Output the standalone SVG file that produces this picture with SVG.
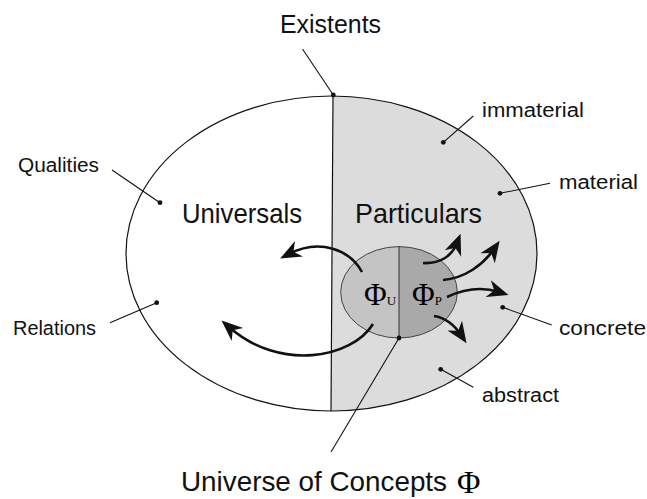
<svg xmlns="http://www.w3.org/2000/svg" width="647" height="499" viewBox="0 0 647 499">
<style>
.sans{font-family:"Liberation Sans","DejaVu Sans",sans-serif;fill:#111}
.serif{font-family:"Liberation Serif","DejaVu Serif",serif;fill:#000}
.lbl{font-size:20px}
.big{font-size:28px}
.outline{fill:none;stroke:#111;stroke-width:1.2}
.lead{stroke:#111;stroke-width:1.1;fill:none}
.dot{fill:#111}
.arr{stroke:#111;stroke-width:2.6;fill:none;marker-end:url(#ah)}
</style>
<defs>
<marker id="ah" markerUnits="userSpaceOnUse" markerWidth="30" markerHeight="30" viewBox="-12 -10 24 20" refX="0" refY="0" orient="auto" overflow="visible">
<path d="M8,0 L-9,-7 L-4,0 L-9,7 Z" fill="#111"/>
</marker>
<clipPath id="rightHalf"><polygon points="333.6,0 647,0 647,499 330.4,499"/></clipPath>
<clipPath id="innerLeft"><rect x="0" y="0" width="399" height="499"/></clipPath>
<clipPath id="innerRight"><rect x="399" y="0" width="248" height="499"/></clipPath>
</defs>

<g id="existents">
<ellipse cx="331.5" cy="253.5" rx="205.5" ry="157.5" fill="#ffffff"/>
<ellipse cx="331.5" cy="253.5" rx="205.5" ry="157.5" fill="#dcdcdc" clip-path="url(#rightHalf)"/>
<ellipse class="outline" cx="331.5" cy="253.5" rx="205.5" ry="157.5"/>
<line class="outline" x1="333" y1="96" x2="331" y2="411"/>
<text class="sans" x="280" y="33" font-size="25" textLength="101" lengthAdjust="spacingAndGlyphs">Existents</text>
</g>

<g id="universals">
<text class="sans big" x="182" y="223" textLength="120" lengthAdjust="spacingAndGlyphs">Universals</text>
</g>

<g id="particulars">
<text class="sans big" x="355" y="223" textLength="127" lengthAdjust="spacingAndGlyphs">Particulars</text>
</g>

<g id="concepts">
<ellipse cx="399" cy="292.3" rx="58.3" ry="45.7" fill="#c4c4c4" clip-path="url(#innerLeft)"/>
<ellipse cx="399" cy="292.3" rx="58.3" ry="45.7" fill="#a9a9a9" clip-path="url(#innerRight)"/>
<ellipse cx="399" cy="292.3" rx="58.3" ry="45.7" fill="none" stroke="#444" stroke-width="1"/>
<line x1="399" y1="246.6" x2="399" y2="338" stroke="#333" stroke-width="1"/>
<text class="serif" x="364" y="305" font-size="31">Φ<tspan font-size="13">U</tspan></text>
<text class="serif" x="412" y="305" font-size="31">Φ<tspan font-size="13">P</tspan></text>
</g>

<g id="label-qualities"><text class="sans lbl" x="18" y="172" textLength="81" lengthAdjust="spacingAndGlyphs">Qualities</text></g>
<g id="label-relations"><text class="sans lbl" x="13" y="335" textLength="83" lengthAdjust="spacingAndGlyphs">Relations</text></g>
<g id="label-immaterial"><text class="sans lbl" x="482" y="117" textLength="102" lengthAdjust="spacingAndGlyphs">immaterial</text></g>
<g id="label-material"><text class="sans lbl" x="559" y="189" textLength="79" lengthAdjust="spacingAndGlyphs">material</text></g>
<g id="label-concrete"><text class="sans lbl" x="559" y="335" textLength="87" lengthAdjust="spacingAndGlyphs">concrete</text></g>
<g id="label-abstract"><text class="sans lbl" x="482" y="402" textLength="77" lengthAdjust="spacingAndGlyphs">abstract</text></g>
<g id="label-universe">
<text class="sans big" x="181" y="491" textLength="266" lengthAdjust="spacingAndGlyphs">Universe of Concepts</text>
<text class="serif" x="457" y="493" font-size="32">Φ</text>
</g>

<g id="connectors">
<line class="lead" x1="302.5" y1="49" x2="333.3" y2="95"/>
<circle class="dot" cx="333.3" cy="95" r="2.4"/>
<line class="lead" x1="112" y1="170" x2="160" y2="202.7"/>
<circle class="dot" cx="160" cy="202.7" r="2.4"/>
<line class="lead" x1="110" y1="322.7" x2="156.7" y2="302.7"/>
<circle class="dot" cx="156.7" cy="302.7" r="2.4"/>
<line class="lead" x1="473.3" y1="116" x2="443.3" y2="142.3"/>
<circle class="dot" cx="443.3" cy="142.3" r="2.4"/>
<line class="lead" x1="550" y1="183.3" x2="500" y2="193.3"/>
<circle class="dot" cx="500" cy="193.3" r="2.4"/>
<line class="lead" x1="551.7" y1="325" x2="502.7" y2="307.3"/>
<circle class="dot" cx="502.7" cy="307.3" r="2.4"/>
<line class="lead" x1="473.3" y1="387.3" x2="440.7" y2="369.3"/>
<circle class="dot" cx="440.7" cy="369.3" r="2.4"/>
<line class="lead" x1="399" y1="338" x2="331" y2="452"/>
<circle class="dot" cx="399" cy="338" r="2.4"/>

<path class="arr" d="M423,263 C440,264 452,256 457,243"/>
<path class="arr" d="M443,280 C465,278 483,265 494,249"/>
<path class="arr" d="M447,297 C462,290 480,286 499,292"/>
<path class="arr" d="M434,316 C447,318 455,326 461,335"/>
<path class="arr" d="M362,272 C350,250 320,238 289,254"/>
<path class="arr" d="M373,324 C352,358 280,372 229,327"/>
</g>
</svg>
